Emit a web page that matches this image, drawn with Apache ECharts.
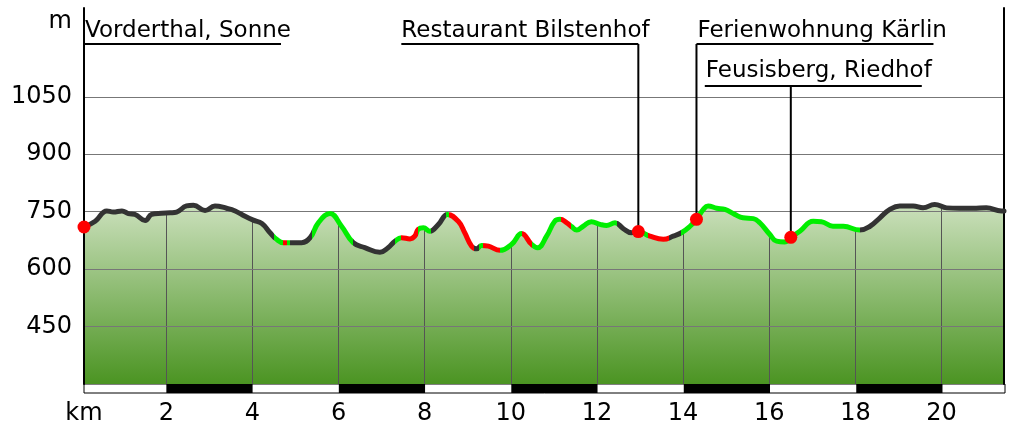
<!DOCTYPE html>
<html>
<head>
<meta charset="utf-8">
<script src="https://cdn.jsdelivr.net/npm/echarts@6/dist/echarts.min.js"></script>
<style>
html, body { margin: 0; padding: 0; background: #fff; }
#main { width: 1010px; height: 430px; }
</style>
</head>
<body>
<div id="main"></div>
<script>
// Höhenprofil: Distanz (km) und Höhe (m)
var kmPts = [0.09, 0.35, 0.62, 0.77, 0.97, 1.12, 1.27, 1.51, 1.66, 1.89,
    2.09, 2.24, 2.47, 2.63, 2.90, 3.13, 3.40, 3.60, 3.83, 4.02,
    4.22, 4.41, 4.56, 4.72, 4.95, 5.14, 5.34, 5.53, 5.80, 6.07,
    6.34, 6.61, 6.96, 7.15, 7.31, 7.46, 7.66, 7.77, 7.85, 7.97,
    8.12, 8.32, 8.53, 8.78, 8.93, 9.09, 9.21, 9.32, 9.48, 9.75,
    10.02, 10.25, 10.48, 10.62, 10.83, 11.02, 11.14, 11.30, 11.41, 11.53,
    11.68, 11.87, 12.07, 12.22, 12.42, 12.61, 12.80, 12.96, 13.23, 13.54,
    13.77, 13.96, 14.16, 14.31, 14.47, 14.58, 14.78, 14.97, 15.20, 15.39,
    15.63, 15.78, 16.01, 16.17, 16.36, 16.50, 16.71, 17.02, 17.21, 17.48,
    17.72, 18.10, 18.34, 18.57, 18.80, 19.03, 19.34, 19.57, 19.84, 20.12,
    20.42, 20.73, 21.04, 21.39, 21.45];
var elevPts = [710, 725, 752, 749, 752, 745, 743, 727, 743, 746,
    747, 749, 765, 767, 753, 765, 759, 752, 738, 728,
    719, 695, 678, 669, 669, 669, 682, 721, 745, 712,
    669, 656, 644, 656, 673, 682, 679, 686, 704, 708,
    699, 717, 743, 725, 695, 660, 653, 662, 660, 649,
    665, 693, 665, 656, 686, 725, 730, 721, 711, 702,
    712, 724, 717, 714, 721, 706, 695, 698, 686, 678,
    686, 695, 712, 730, 756, 765, 759, 756, 743, 734,
    732, 721, 691, 673, 671, 683, 699, 725, 724, 712,
    712, 702, 712, 734, 756, 765, 765, 760, 769, 760,
    759, 759, 760, 752, 752];

// Farbabschnitte der Linie: Grenzen (km) und Klasse je Abschnitt
var segBreaks = [4.51, 4.72, 4.80, 4.88, 5.38, 6.34, 7.31, 7.45, 7.85, 8.15,
    8.50, 8.56, 9.15, 9.26, 9.36, 9.75, 10.26, 10.50, 11.16, 11.39,
    12.46, 12.96, 13.19, 13.68, 13.95, 18.10];
var segClasses = ['k', 'g', 'r', 'g', 'k', 'g', 'k', 'g', 'r', 'g',
    'k', 'g', 'r', 'k', 'g', 'r', 'g', 'r', 'g', 'r',
    'g', 'k', 'g', 'r', 'k', 'g', 'k'];

// Wegpunkte
var stopNames = ['Vorderthal, Sonne', 'Restaurant Bilstenhof', 'Ferienwohnung Kärlin', 'Feusisberg, Riedhof'];
var stopKm = [0.09, 12.96, 14.31, 16.50];
var stopElev = [710, 698, 730, 683];

// Achsen
var xTicks = [2, 4, 6, 8, 10, 12, 14, 16, 18, 20];
var yTicks = [450, 600, 750, 900, 1050];
var xMin = 0.09, xMax = 21.45, yMin = 300, yMax = 1282;

var classColor = { k: '#333333', g: '#00ee00', r: '#ff0000' };
var FONT = 'DejaVu Sans';

var profile = kmPts.map(function (km, i) { return [km, elevPts[i]]; });
var stops = stopKm.map(function (km, i) { return [km, stopElev[i]]; });

var pieces = segClasses.map(function (c, i) {
    return {
        gte: i === 0 ? -1 : segBreaks[i - 1],
        lt: i === segBreaks.length ? 100 : segBreaks[i],
        color: classColor[c]
    };
});

var bandAreas = [];
for (var i = 0; i + 1 < xTicks.length; i += 2) {
    bandAreas.push([{ xAxis: xTicks[i] }, { xAxis: xTicks[i + 1] }]);
}

var SMOOTH = 0.45;

var chart = echarts.init(document.getElementById('main'));
chart.setOption({
    animation: false,
    backgroundColor: '#fff',
    grid: [
        { left: 84, right: 6, top: 8, bottom: 46 },
        { left: 84, right: 5, top: 384, height: 9, show: true, borderColor: '#000', borderWidth: 1, backgroundColor: '#fff' }
    ],
    xAxis: [
        {
            type: 'value', gridIndex: 0, min: xMin, max: xMax,
            axisLine: { show: false }, axisTick: { show: false }, splitLine: { show: false },
            axisLabel: {
                customValues: [xMin].concat(xTicks),
                formatter: function (v) { return Math.abs(v - xMin) < 1e-6 ? 'km' : String(v); },
                fontSize: 24, fontFamily: FONT, color: '#000', margin: 18
            }
        },
        { type: 'value', gridIndex: 1, min: xMin, max: xMax, show: false }
    ],
    yAxis: [
        {
            type: 'value', gridIndex: 0, min: yMin, max: yMax, z: 4,
            axisLine: { show: true, onZero: false, lineStyle: { color: '#000', width: 2 } },
            axisTick: { show: false }, splitLine: { show: false },
            axisLabel: {
                customValues: yTicks, fontSize: 24, fontFamily: FONT, color: '#000', margin: 12,
                formatter: function (v) { return String(v); }
            }
        },
        {
            type: 'value', gridIndex: 0, position: 'right', min: yMin, max: yMax, z: 4,
            axisLine: { show: true, onZero: false, lineStyle: { color: '#000', width: 2 } },
            axisTick: { show: false }, splitLine: { show: false }, axisLabel: { show: false }
        },
        { type: 'value', gridIndex: 1, min: 0, max: 1, show: false }
    ],
    visualMap: {
        type: 'piecewise', show: false, dimension: 0, seriesIndex: 2, pieces: pieces
    },
    series: [
        {
            name: 'fill', type: 'line', data: profile, smooth: SMOOTH, symbol: 'none', silent: true, z: 1,
            lineStyle: { width: 0, opacity: 0 },
            areaStyle: {
                opacity: 1,
                color: {
                    type: 'linear', x: 0, y: 0, x2: 0, y2: 1,
                    colorStops: [{ offset: 0, color: '#cbe0bc' }, { offset: 1, color: '#4b9422' }]
                }
            },
            markLine: {
                z: 2, silent: true, symbol: ['none', 'none'], label: { show: false },
                lineStyle: { color: '#555', width: 1, type: 'solid' },
                data: xTicks.map(function (v) { return { xAxis: v }; })
            }
        },
        {
            name: 'sky', type: 'line', data: profile, smooth: SMOOTH, symbol: 'none', silent: true, z: 3,
            lineStyle: { width: 0, opacity: 0 },
            areaStyle: { color: '#fff', opacity: 1, origin: 'end' },
            markLine: {
                z: 4, silent: true, symbol: ['none', 'none'], label: { show: false },
                lineStyle: { color: '#777', width: 1, type: 'solid' },
                data: yTicks.map(function (v) { return { yAxis: v }; })
            }
        },
        {
            name: 'profile', type: 'line', data: profile, smooth: SMOOTH, symbol: 'none', z: 5,
            lineStyle: { width: 5, cap: 'round', join: 'round' }
        },
        {
            name: 'stops', type: 'scatter', data: stops, symbolSize: 13, z: 7,
            itemStyle: { color: '#ff0000', opacity: 1 }
        },
        {
            name: 'band', type: 'line', xAxisIndex: 1, yAxisIndex: 2, data: [[xMin, 0]], symbol: 'none',
            lineStyle: { opacity: 0 },
            markArea: { silent: true, itemStyle: { color: '#000' }, data: bandAreas }
        }
    ]
});

// Beschriftungen der Wegpunkte mit Unterstrich und Verbindungslinie
var labelLayout = [
    { dx: 1, u0: 0, u1: 197, row: 0 },
    { dx: -237, u0: -237, u1: 0, row: 0 },
    { dx: 1, u0: 0, u1: 237, row: 0 },
    { dx: -85, u0: -86, u1: 131, row: 1 }
];
var rowLineY = [44, 86];
var rowTextY = [31, 71];

var elements = [{
    type: 'text', z: 6,
    style: { text: 'm', x: 72, y: 22, align: 'right', verticalAlign: 'middle', fontSize: 24, fontFamily: FONT, fill: '#000' }
}];
stops.forEach(function (p, i) {
    var pt = chart.convertToPixel({ seriesIndex: 3 }, p);
    var L = labelLayout[i];
    var ly = rowLineY[L.row];
    elements.push({
        type: 'text', z: 6,
        style: { text: stopNames[i], x: pt[0] + L.dx, y: rowTextY[L.row], align: 'left', verticalAlign: 'middle', fontSize: 23, fontFamily: FONT, fill: '#000' }
    });
    elements.push({
        type: 'line', z: 6,
        shape: { x1: pt[0] + L.u0, y1: ly, x2: pt[0] + L.u1, y2: ly },
        style: { stroke: '#000', lineWidth: 2 }
    });
    elements.push({
        type: 'line', z: 6,
        shape: { x1: pt[0], y1: ly, x2: pt[0], y2: pt[1] },
        style: { stroke: '#000', lineWidth: 2 }
    });
});
chart.setOption({ graphic: elements });
</script>
</body>
</html>
